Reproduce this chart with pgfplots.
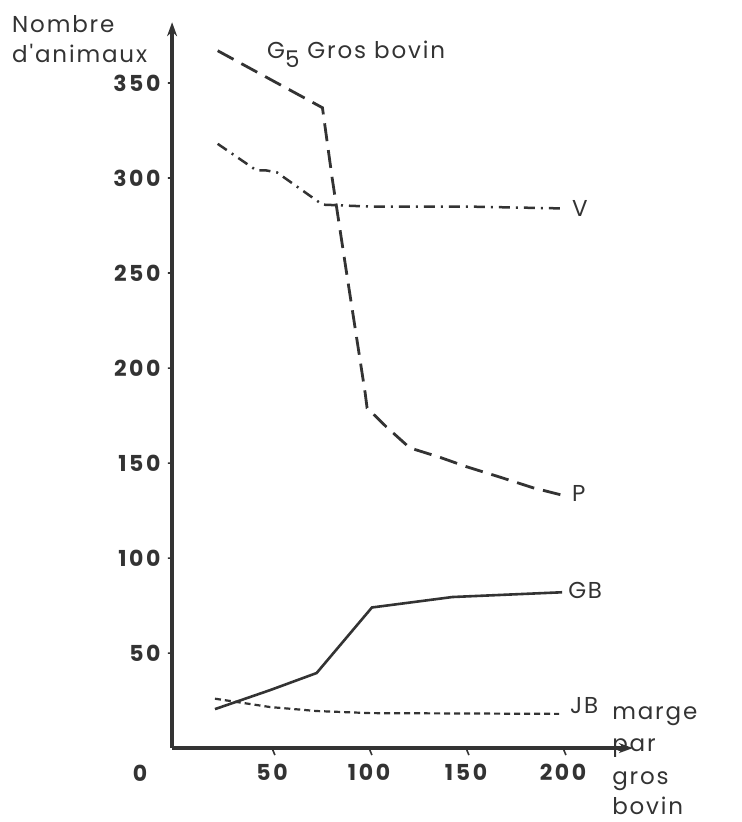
\documentclass[border=0pt]{standalone}
\usepackage{fontspec}
\setmainfont{Poppins}
\newfontfamily\lblfont[LetterSpace=8]{Poppins}
\newfontfamily\tickfont[LetterSpace=12]{Poppins}
\usepackage{pgfplots}
\pgfplotsset{compat=1.18}
\usetikzlibrary{arrows.meta}
\definecolor{ink}{HTML}{333333}
\begin{document}
\begin{tikzpicture}
\begin{axis}[
  x=1.94pt, y=1.9pt,
  xmin=-1.5, xmax=235, ymin=0, ymax=381,
  axis lines=left,
  axis line style={draw=none},
  clip=false,
  xtick={50,100,150,200},
  ytick={50,100,150,200,250,300,350},
  major tick length=0pt,
  /pgf/number format/assume math mode=true,
  tick label style={font=\fontsize{22}{24}\selectfont\tickfont\bfseries, text=ink},
  yticklabel style={xshift=-8pt},
  xticklabel style={yshift=-12pt},
]
% invisible frame fixing the picture size
\path (axis cs:-90.2,-38.9) rectangle (axis cs:291.8,393.7);
% axis lines
\draw[ink, line width=3.2pt, -{Stealth[length=14pt,width=10pt]}] (axis cs:-1.5,0) -- (axis cs:236,0);
\draw[ink, line width=3.2pt, -{Stealth[length=14pt,width=10pt]}] (axis cs:-1.5,0) -- (axis cs:-1.5,382);
% tick marks
\draw[ink, line width=1.6pt]
  (axis cs:50,0) -- ++(0,-7pt) (axis cs:100,0) -- ++(0,-7pt)
  (axis cs:150,0) -- ++(0,-7pt) (axis cs:200,0) -- ++(0,-7pt)
  (axis cs:-1.5,50) -- ++(-7pt,0) (axis cs:-1.5,100) -- ++(-7pt,0)
  (axis cs:-1.5,150) -- ++(-7pt,0) (axis cs:-1.5,200) -- ++(-7pt,0)
  (axis cs:-1.5,250) -- ++(-7pt,0) (axis cs:-1.5,300) -- ++(-7pt,0)
  (axis cs:-1.5,350) -- ++(-7pt,0);

% P (dashed)
\addplot[ink, line width=2.8pt, dash pattern=on 18pt off 9pt] coordinates {
 (22,367) (76,337) (81,300) (88,253) (98,187) (99,179) (109,169) (121,158) (136.6,153) (150.5,148) (167.5,142.6) (184.5,137) (200,133)
};
% V (dash-dot)
\addplot[ink, line width=2.5pt, dash pattern=on 11pt off 6pt on 2pt off 6pt] coordinates {
 (22,318) (42,304) (47,304) (52.5,303) (76,286) (100,285) (150,285) (200,284)
};
% GB (solid)
\addplot[ink, line width=2.6pt] coordinates {
 (20.6,20.5) (49,30.5) (73,39.5) (101.5,74) (143,79.5) (199.5,82)
};
% JB (short dashes)
\addplot[ink, line width=2.2pt, dash pattern=on 6pt off 4pt] coordinates {
 (20.6,26) (49,21.6) (73,19.5) (100.5,18.4) (150,18.2) (198,18)
};

% labels
\node[anchor=base west, font=\fontsize{23}{24}\selectfont\lblfont, text=ink, inner sep=0pt] at (axis cs:-84,376.5) {Nombre};
\node[anchor=base west, font=\fontsize{23}{24}\selectfont\lblfont, text=ink, inner sep=0pt] at (axis cs:-84,361) {d'animaux};
\node[anchor=base west, font=\fontsize{23}{24}\selectfont\lblfont, text=ink, inner sep=0pt] at (axis cs:47.4,363) {G\raisebox{-9pt}{5} Gros bovin};
\node[anchor=west, font=\fontsize{23}{24}\selectfont\lblfont, text=ink, inner sep=0pt] at (axis cs:204.6,284) {V};
\node[anchor=west, font=\fontsize{23}{24}\selectfont\lblfont, text=ink, inner sep=0pt] at (axis cs:204.6,134) {P};
\node[anchor=west, font=\fontsize{23}{24}\selectfont\lblfont, text=ink, inner sep=0pt] at (axis cs:202.6,83) {GB};
\node[anchor=west, font=\fontsize{23}{24}\selectfont\lblfont, text=ink, inner sep=0pt] at (axis cs:203.6,22.6) {JB};
\node[anchor=base west, font=\fontsize{23}{24}\selectfont\lblfont, text=ink, inner sep=0pt] at (axis cs:225.3,15) {marge};
\node[anchor=base west, font=\fontsize{23}{24}\selectfont\lblfont, text=ink, inner sep=0pt] at (axis cs:225.3,-1.8) {par};
\node[anchor=base west, font=\fontsize{23}{24}\selectfont\lblfont, text=ink, inner sep=0pt] at (axis cs:225.3,-19.3) {gros};
\node[anchor=base west, font=\fontsize{23}{24}\selectfont\lblfont, text=ink, inner sep=0pt] at (axis cs:225.3,-34.8) {bovin};
\node[font=\fontsize{22}{24}\selectfont\tickfont\bfseries, text=ink, inner sep=0pt] at (axis cs:-18,-13.2) {0};
\end{axis}
\end{tikzpicture}
\end{document}
